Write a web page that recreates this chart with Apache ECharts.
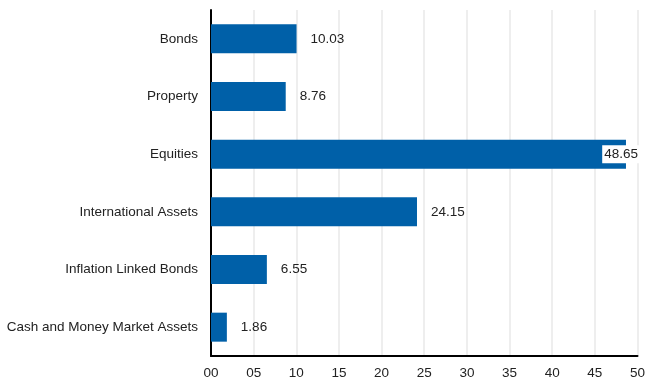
<!DOCTYPE html>
<html>
<head>
<meta charset="utf-8">
<script src="https://cdn.jsdelivr.net/npm/echarts@6/dist/echarts.min.js"></script>
<style>
  html, body { margin: 0; padding: 0; background: #fff; }
  #main { width: 648px; height: 380px; }
</style>
</head>
<body>
<div id="main"></div>
<script>
// asset classes, top to bottom
const categories = [
  "Bonds",
  "Property",
  "Equities",
  "International Assets",
  "Inflation Linked Bonds",
  "Cash and Money Market Assets",
];
const values = [10.03, 8.76, 48.65, 24.15, 6.55, 1.86];

let chart = echarts.init(document.getElementById("main"));

// the equities label sits over the bar end with a white box
let seriesData = values.map((v, i) => {
  if (v > 45) {
    return {
      value: v,
      label: {
        position: "insideRight",
        offset: [28, 0],
        backgroundColor: "#fff",
        padding: [2, 2],
      },
    };
  }
  return v;
});

let option = {
  animation: false,
  textStyle: { fontFamily: "Liberation Sans, Arial, sans-serif" },
  grid: {
    left: 211,
    right: 7,
    top: 10,
    bottom: 23,
  },
  xAxis: {
    type: "value",
    min: 0,
    max: 50,
    interval: 5,
    axisLine: { show: true, lineStyle: { color: "#000", width: 2 } },
    axisTick: { show: false },
    splitLine: {
      show: true,
      lineStyle: { color: "#e8e8e8", width: 1.5 },
    },
    axisLabel: {
      color: "#222",
      fontSize: 13.5,
      margin: 10,
      formatter: (v) => String(v).padStart(2, "0"),
    },
  },
  yAxis: {
    type: "category",
    inverse: true,
    data: categories,
    axisLine: { show: true, lineStyle: { color: "#000", width: 2 } },
    axisTick: { show: false },
    axisLabel: { color: "#222", fontSize: 13.5, margin: 13 },
  },
  series: [
    {
      type: "bar",
      data: seriesData,
      barWidth: 29,
      itemStyle: { color: "#0060a8" },
      label: {
        show: true,
        position: "right",
        distance: 14,
        color: "#222",
        fontSize: 13.5,
        formatter: (p) => p.value.toFixed(2),
      },
    },
  ],
};
chart.setOption(option);
</script>
</body>
</html>
